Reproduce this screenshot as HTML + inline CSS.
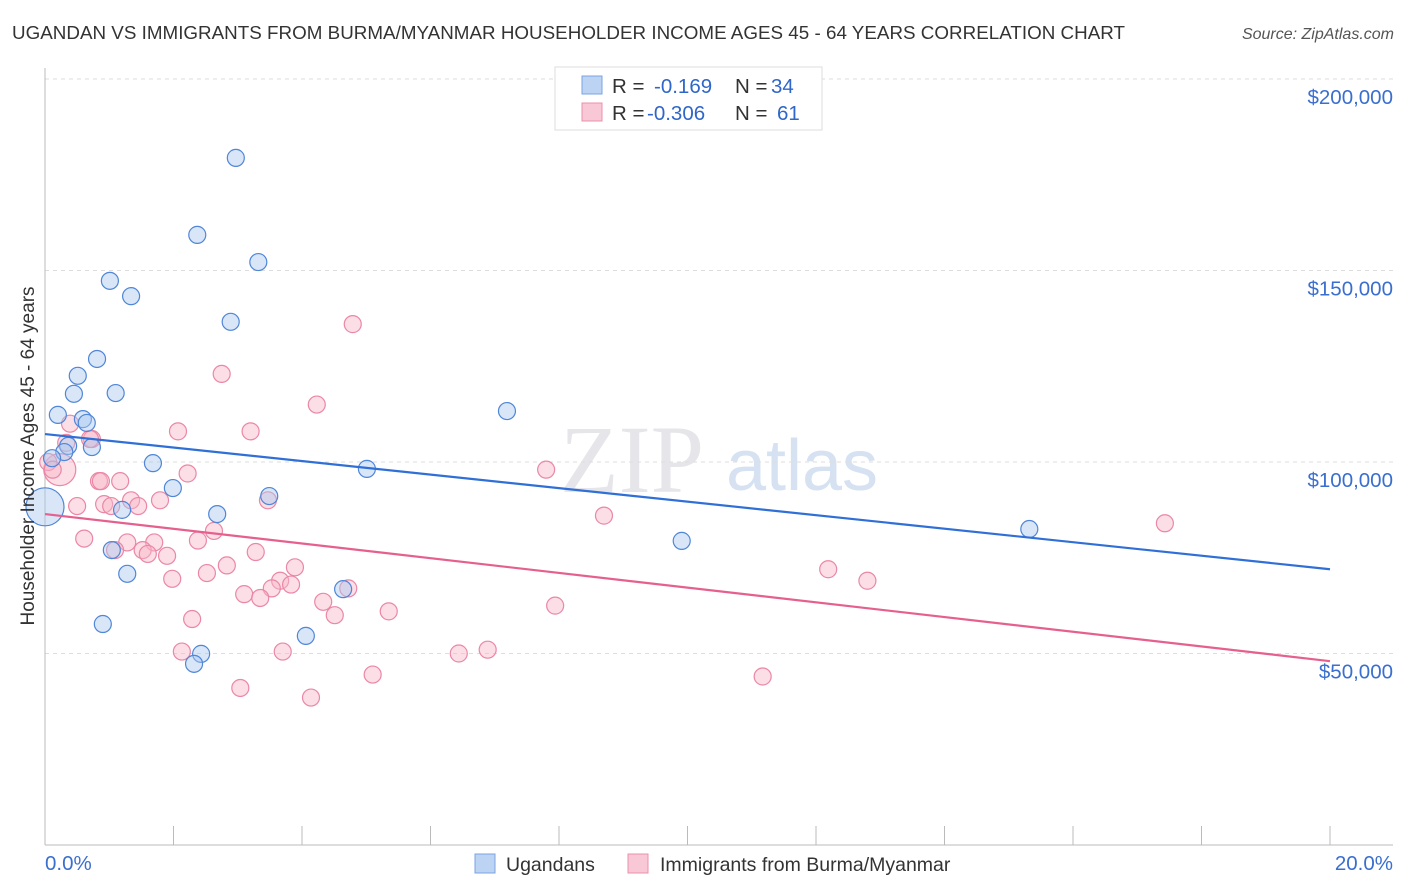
<!DOCTYPE html>
<html><head><meta charset="utf-8"><style>
body{margin:0;background:#fff;font-family:"Liberation Sans",sans-serif;}
svg{display:block}
</style></head><body>
<svg id="c" width="1406" height="892">
<text x="12" y="39" font-size="18.8" fill="#333" textLength="1113">UGANDAN VS IMMIGRANTS FROM BURMA/MYANMAR HOUSEHOLDER INCOME AGES 45 - 64 YEARS CORRELATION CHART</text>
<text x="1394" y="39" font-size="16" fill="#555" font-style="italic" text-anchor="end">Source: ZipAtlas.com</text>
<text x="632" y="492" font-size="96" fill="#e6e6ea" font-family="Liberation Serif,serif" text-anchor="middle">ZIP</text>
<text x="802" y="490" font-size="72" fill="#d6e2f2" text-anchor="middle">atlas</text>
<g id="grid"></g><g id="pts"></g><g id="lines"></g>
<text transform="translate(34,456) rotate(-90)" font-size="19" fill="#333" text-anchor="middle">Householder Income Ages 45 - 64 years</text>
<text x="45" y="870" font-size="20.5" fill="#3a6fcf">0.0%</text>
<text x="1393" y="870" font-size="20.5" fill="#3a6fcf" text-anchor="end">20.0%</text>
<g>
<rect x="555" y="67" width="267" height="63" fill="#fff" stroke="#ddd"/>
<rect x="582" y="76" width="20" height="18" fill="#bcd3f3" stroke="#7aa5e0"/>
<rect x="582" y="103" width="20" height="18" fill="#f8c8d6" stroke="#ec8fab"/>
<text x="612" y="93" font-size="20.5" fill="#333">R = <tspan x="654" fill="#2f66c9">-0.169</tspan><tspan x="735">N = </tspan><tspan x="771" fill="#2f66c9">34</tspan></text>
<text x="612" y="120" font-size="20.5" fill="#333">R = <tspan x="647" fill="#2f66c9">-0.306</tspan><tspan x="735">N = </tspan><tspan x="777" fill="#2f66c9">61</tspan></text>
</g>
<g>
<rect x="475" y="854" width="20" height="19" fill="#bcd3f3" stroke="#7aa5e0"/>
<text x="506" y="871" font-size="19.5" fill="#333">Ugandans</text>
<rect x="628" y="854" width="20" height="19" fill="#f8c8d6" stroke="#ec8fab"/>
<text x="660" y="871" font-size="19.5" fill="#333">Immigrants from Burma/Myanmar</text>
</g>
</svg>
<script>
const yTicks=[50000,100000,150000,200000];
const yTickLabels=["$50,000","$100,000","$150,000","$200,000"];
const blueX=[2.97,2.37,3.32,1.01,1.34,2.89,0.81,0.51,1.10,0.45,0.20,0.59,0.65,7.19,0.36,0.73,0.30,0.11,1.68,5.01,1.99,3.49,0,1.20,2.68,9.91,15.32,1.04,1.28,0.90,4.64,4.06,2.43,2.32];
const blueY=[179400,159300,152200,147300,143300,136600,126900,122500,118000,117800,112300,111200,110200,113300,104200,103900,102600,101000,99700,98200,93200,91100,88300,87500,86400,79400,82500,77000,70800,57700,66800,54600,49900,47300];
const pinkX=[4.79,2.75,4.23,2.07,3.2,0.39,0.73,0.23,0.05,2.22,7.8,1.17,0.84,1.34,1.79,0.92,1.45,1.03,0.5,3.47,8.7,17.43,2.63,0.61,2.38,1.28,1.7,1.09,1.52,1.6,1.9,3.28,2.83,3.89,2.52,12.19,1.98,3.66,12.8,3.83,3.53,4.72,3.1,3.35,4.33,4.51,5.35,7.94,2.29,2.13,3.7,6.44,6.89,5.1,11.17,3.04,4.14,0.12,0.33,0.7,0.87];
const pinkY=[136000,123000,115000,108000,108000,110000,106000,98000,100000,97000,98000,95000,95000,90000,90000,89000,88500,88500,88500,90000,86000,84000,82000,80000,79500,79000,79000,77000,77000,76000,75500,76500,73000,72500,71000,72000,69500,69000,69000,68000,67000,67000,65500,64500,63500,60000,61000,62500,59000,50500,50500,50000,51000,44500,44000,41000,38500,98000,105000,106000,95000];
const blueLine=[107300,72000];
const pinkLine=[86400,48000];
const NS="http://www.w3.org/2000/svg";
const X=v=>45+v/20*1285, Y=v=>845-v/50000*191.5;
function mk(t,a,p){const e=document.createElementNS(NS,t);for(const k in a)e.setAttribute(k,a[k]);p.appendChild(e);return e;}
const g=document.getElementById('grid');
yTicks.forEach((v,i)=>{
 const l=mk('line',{x1:45,x2:1393,y1:Y(v),y2:Y(v),stroke:'#ddd','stroke-dasharray':'4,4'},g);
 
 
 const t=mk('text',{x:1393,y:Y(v)+25,'font-size':20.5,fill:'#3a6fcf','text-anchor':'end'},g);
 t.textContent=yTickLabels[i];
 
 
});
mk('line',{x1:45,x2:45,y1:68,y2:845,stroke:'#bbb'},g);
mk('line',{x1:45,x2:1393,y1:845,y2:845,stroke:'#bbb'},g);
for(let i=0;i<=10;i++){const x=X(i*2);const t=mk('line',{x1:x,x2:x,y1:826,y2:845,stroke:'#bbb'},g);
 
 }
const p=document.getElementById('pts');
function dots(xs,ys,fill,stroke,name,bigIdx,bigR){xs.forEach((x,i)=>{
 const r=(i===bigIdx)?bigR:8.5;
 const c=mk('circle',{cx:X(x),cy:Y(ys[i]),r:r,fill:fill,'fill-opacity':0.45,stroke:stroke,'stroke-width':1.2},p);
 
 
});}
dots(pinkX,pinkY,'#f6b6c8','#eb87a6','burma-point',7,16);
dots(blueX,blueY,'#a9c7ef','#4f86d8','ugandan-point',22,19);
const L=document.getElementById('lines');
const bl=mk('line',{x1:X(0),y1:Y(blueLine[0]),x2:X(20),y2:Y(blueLine[1]),stroke:'#2f6fd6','stroke-width':2.2},L);


const pl=mk('line',{x1:X(0),y1:Y(pinkLine[0]),x2:X(20),y2:Y(pinkLine[1]),stroke:'#e5608e','stroke-width':2.2},L);


</script>
</body></html>
